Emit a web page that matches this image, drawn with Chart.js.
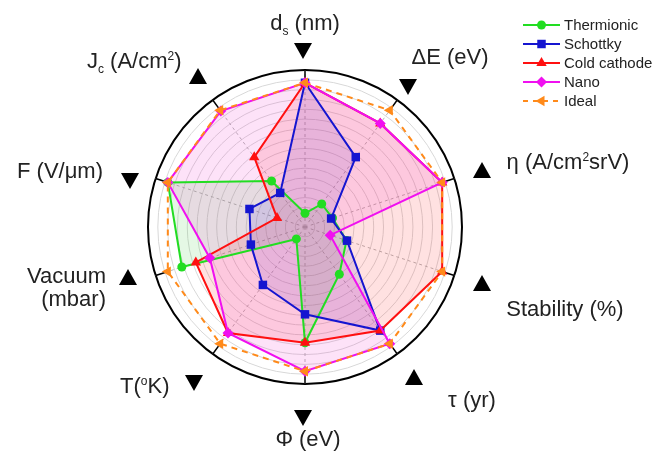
<!DOCTYPE html>
<html lang="en">
<head>
<meta charset="UTF-8">
<title>Electron emitters</title>
<script src="https://cdn.jsdelivr.net/npm/chart.js"></script>
<style>
  body { margin: 0; background: #fff; font-family: "Liberation Sans", Arial, sans-serif; }
  #wrap { position: relative; width: 654px; height: 468px; }
  #wrap canvas { position: absolute; left: 0; top: 0; }
  .lbl { position: absolute; font-size: 22px; line-height: 23px; color: #222; white-space: nowrap; }
  .lbl sub, .lbl sup { font-size: 12px; line-height: 0; }
  .arrow { position: absolute; width: 0; height: 0; border-left: 9px solid transparent; border-right: 9px solid transparent; }
  .up { border-bottom: 16px solid #000; }
  .down { border-top: 16px solid #000; }
  .leg { position: absolute; left: 564px; font-size: 15px; line-height: 16px; color: #222; white-space: nowrap; }
</style>
</head>
<body>
<div id="wrap">
  <canvas id="radar" width="654" height="468"></canvas>
</div>

<script>
  // axes, clockwise from the top
  const categories = ['d<sub>s</sub> (nm)', '\u0394E (eV)', '\u03b7 (A/cm<sup>2</sup>srV)', 'Stability (%)', '\u03c4 (yr)',
                      '\u03a6 (eV)', 'T(<sup>o</sup>K)', 'Vacuum<br>(mbar)', 'F (V/\u03bcm)', 'J<sub>c</sub> (A/cm<sup>2</sup>)'];
  const better = ['down', 'down', 'up', 'up', 'up', 'down', 'down', 'up', 'down', 'up'];

  const thermionic  = [1.4, 2.9, 2.95, 4.45, 5.95, 11.8, 1.5, 13.2, 14.7, 5.8];
  const schottky    = [14.7, 8.8, 2.8, 4.5, 13.05, 8.9, 7.3, 5.8, 5.95, 4.3];
  const coldCathode = [14.7, 13.05, 14.7, 14.7, 13.05, 11.8, 13.35, 11.7, 3.0, 8.8];
  const nano        = [14.7, 13.05, 14.7, 2.7, 14.7, 14.7, 13.35, 10.2, 14.7, 14.6];
  const ideal       = [14.7, 14.7, 14.7, 14.7, 14.7, 14.7, 14.7, 14.7, 14.7, 14.7];

  const seriesNames = ['Thermionic', 'Schottky', 'Cold cathode', 'Nano', 'Ideal'];

  // label placement: [x, baseline y, align]
  const labelPos = [
    [305, 29, 'center'], [450, 63, 'center'], [568, 168, 'center'], [565, 315, 'center'], [472, 406, 'center'],
    [308, 445, 'center'], [120, 392, 'left'], [106, 282, 'right'], [17, 177, 'left'], [87, 67, 'left']
  ];
  const arrowPos = [[303, 51], [408, 87], [482, 170], [482, 283], [414, 377],
                    [303, 418], [194, 383], [128, 277], [130, 181], [198, 76]];

  const wrap = document.getElementById('wrap');
  categories.forEach((html, i) => {
    const d = document.createElement('div');
    d.className = 'lbl';
    d.innerHTML = html;
    const [x, y, align] = labelPos[i];
    d.style.top = (y - 18) + 'px';
    d.style.textAlign = align;
    d.style.left = x + 'px';
    if (align === 'center') d.style.transform = 'translateX(-50%)';
    else if (align === 'right') d.style.transform = 'translateX(-100%)';
    wrap.appendChild(d);

    const a = document.createElement('div');
    a.className = 'arrow ' + better[i];
    a.style.left = (arrowPos[i][0] - 9) + 'px';
    a.style.top = (arrowPos[i][1] - 8) + 'px';
    wrap.appendChild(a);
  });

  const styles = [
    { color: '#22dd22', fill: 'rgba(40,200,40,0.12)', point: 'circle', r: 4.5, rot: 0 },
    { color: '#1515d0', fill: 'rgba(30,30,220,0.12)', point: 'rect', r: 6, rot: 0 },
    { color: '#ff1010', fill: 'rgba(255,20,20,0.13)', point: 'triangle', r: 6, rot: 0 },
    { color: '#f010f0', fill: 'rgba(240,30,200,0.13)', point: 'rectRot', r: 5.5, rot: 0 },
    { color: '#ff8a1a', fill: false, point: 'triangle', r: 6, rot: -90 }
  ];
  const values = [thermionic, schottky, coldCathode, nano, ideal];

  const legendRows = [25, 44, 63, 82, 101];
  seriesNames.forEach((name, i) => {
    const d = document.createElement('div');
    d.className = 'leg';
    d.textContent = name;
    d.style.top = (legendRows[i] - 8) + 'px';
    wrap.appendChild(d);
  });

  function marker(ctx, s, x, y) {
    ctx.beginPath();
    if (s.point === 'circle') ctx.arc(x, y, s.r, 0, Math.PI * 2);
    else if (s.point === 'rect') { const h = s.r * Math.SQRT1_2; ctx.rect(x - h, y - h, 2 * h, 2 * h); }
    else if (s.point === 'rectRot') { ctx.moveTo(x, y - s.r); ctx.lineTo(x + s.r, y); ctx.lineTo(x, y + s.r); ctx.lineTo(x - s.r, y); ctx.closePath(); }
    else {
      for (let k = 0; k < 3; k++) {
        const t = (s.rot + k * 120) * Math.PI / 180;
        const px = x + Math.sin(t) * s.r, py = y - Math.cos(t) * s.r;
        k ? ctx.lineTo(px, py) : ctx.moveTo(px, py);
      }
      ctx.closePath();
    }
    ctx.fill();
  }

  const spokeTicks = {
    id: 'spokeTicks',
    beforeDatasetsDraw(chart) {
      const r = chart.scales.r, ctx = chart.ctx;
      ctx.save();
      ctx.strokeStyle = '#000';
      ctx.lineWidth = 1.5;
      categories.forEach((_, i) => {
        const a = r.getPointPositionForValue(i, 15), b = r.getPointPositionForValue(i, 16);
        ctx.beginPath(); ctx.moveTo(a.x, a.y); ctx.lineTo(b.x, b.y); ctx.stroke();
      });
      ctx.restore();
    }
  };

  const legendIcons = {
    id: 'legendIcons',
    afterDraw(chart) {
      const ctx = chart.ctx;
      ctx.save();
      styles.forEach((s, i) => {
        const y = legendRows[i];
        ctx.strokeStyle = s.color;
        ctx.fillStyle = s.color;
        ctx.lineWidth = 2;
        ctx.setLineDash(i === 4 ? [5, 5] : []);
        ctx.beginPath(); ctx.moveTo(523, y); ctx.lineTo(560, y); ctx.stroke();
        ctx.setLineDash([]);
        marker(ctx, s, 541.5, y);
      });
      ctx.restore();
    }
  };

  new Chart(document.getElementById('radar'), {
    type: 'radar',
    data: {
      labels: categories.map(c => c.replace(/<br>/g, ' ').replace(/<[^>]+>/g, '')),
      datasets: values.map((v, i) => ({
        label: seriesNames[i],
        data: v,
        borderColor: styles[i].color,
        backgroundColor: styles[i].fill || 'transparent',
        fill: styles[i].fill ? 'origin' : false,
        borderWidth: 2,
        borderDash: i === 4 ? [6, 5] : [],
        pointStyle: styles[i].point,
        pointRadius: styles[i].r,
        pointRotation: styles[i].rot,
        pointBackgroundColor: styles[i].color,
        pointBorderColor: styles[i].color,
        pointBorderWidth: 0,
        order: 5 - i
      }))
    },
    options: {
      responsive: false,
      animation: false,
      layout: { padding: { left: 148, top: 70, right: 192, bottom: 83 } },
      elements: { line: { tension: 0 } },
      plugins: {
        legend: { display: false },
        tooltip: { enabled: false },
        filler: { drawTime: 'beforeDatasetsDraw' }
      },
      scales: {
        r: {
          min: 0,
          max: 16,
          ticks: { display: false, stepSize: 1 },
          pointLabels: { display: false },
          grid: {
            circular: true,
            color: c => c.tick.value === 16 ? '#000' : '#d8d8d8',
            lineWidth: c => c.tick.value === 16 ? 2 : 1
          },
          angleLines: { color: '#b5b5b5', borderDash: [3, 3], lineWidth: 1 }
        }
      }
    },
    plugins: [spokeTicks, legendIcons]
  });
</script>
</body>
</html>
